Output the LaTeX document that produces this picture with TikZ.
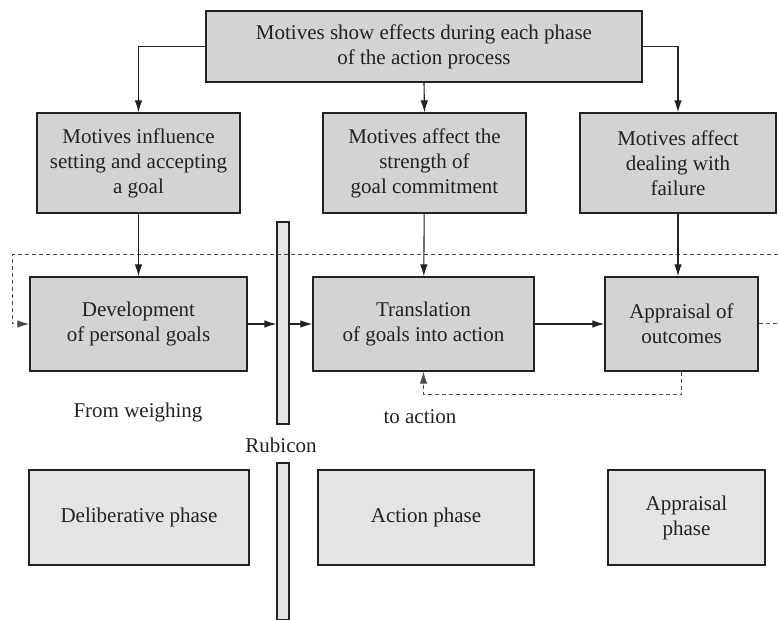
\documentclass[tikz,border=0pt]{standalone}
\usepackage{fontspec}
\setmainfont{Liberation Serif}
\usepackage{xcolor}
\usetikzlibrary{arrows.meta, positioning, calc}
\definecolor{boxgray}{HTML}{D3D3D5}
\definecolor{phasegray}{HTML}{E4E4E6}
\definecolor{inkgray}{HTML}{222222}

\begin{document}
\begin{tikzpicture}[
    x=0.5pt, y=-0.5pt,
    every node/.style={font=\fontsize{10.5}{12.5}\selectfont, text=inkgray},
    box/.style={draw=inkgray, line width=0.65pt, fill=boxgray, minimum height=50pt, align=center, inner sep=0pt},
    phase/.style={draw=inkgray, line width=1.4pt, fill=phasegray, minimum height=47.5pt, align=center, inner sep=0pt},
    bar/.style={draw=inkgray, line width=0.55pt, fill=phasegray, minimum width=6pt, inner sep=0pt},
    arrow/.style={-{Latex[length=6pt, width=3.8pt]}, line width=0.55pt, draw=inkgray},
    dashline/.style={dashed, dash pattern=on 2pt off 1.5pt, line width=0.5pt, draw=black!70},
    dasharrow/.style={dashline, -{Latex[length=6pt, width=3.8pt]}}
]
    \useasboundingbox (0,0) rectangle (778,620);

    % Motive boxes
    \node[box, minimum width=218pt, minimum height=35.5pt] (effects) at (424,46.5) {Motives show effects during each phase\\of the action process};
    \node[box, minimum width=101.5pt] (setting) at (138.5,163) {Motives influence\\setting and accepting\\a goal};
    \node[box, minimum width=101.5pt] (commit) at (424.5,163) {Motives affect the\\strength of\\goal commitment};
    \node[box, minimum width=98pt] (failure) at (678,163) {Motives affect\\dealing with\\failure};

    % Action process
    \node[box, minimum width=108.5pt, minimum height=47pt] (develop) at (138.5,324) {Development\\of personal goals};
    \node[box, minimum width=110.5pt, minimum height=47pt] (translate) at (423.5,324) {Translation\\of goals into action};
    \node[box, minimum width=76.5pt, minimum height=47pt] (appraise) at (681.5,324) {Appraisal of\\outcomes};

    % Rubicon
    \node[bar, minimum height=101pt] (rub1) at (283,323) {};
    \node[bar, minimum height=78.5pt] (rub2) at (283,541.5) {};
    \node (rubicon) at (281,445) {Rubicon};
    \node (weigh) at (138,412) {From weighing};
    \node (toact) at (420,417) {to action};

    % Phases
    \node[phase, minimum width=110pt] (delib) at (139,517.5) {Deliberative phase};
    \node[phase, minimum width=108pt] (actph) at (426,517.5) {Action phase};
    \node[phase, minimum width=78.5pt] (apprph) at (686.5,517.5) {Appraisal\\phase};

    % Feedback loops
    \coordinate (loopR) at (778,255);
    \coordinate (loopL) at (12,255);
    \coordinate (outR) at (778,324);
    \draw[dashline] (appraise.east) -- (outR);
    \draw[dasharrow] (loopR) -- (loopL) |- (develop.west);
    \draw[dasharrow] (appraise.south) -- ++(0,23) -| (translate.south);

    % Arrows
    \draw[arrow] (effects.west) -| (setting.north);
    \draw[arrow] (effects.south) -- (commit.north);
    \draw[arrow] (effects.east) -| (failure.north);
    \draw[arrow] (setting) -- (develop);
    \draw[arrow] (commit) -- (translate);
    \draw[arrow] (failure.south) -- (failure.south |- appraise.north);
    \draw[arrow] (develop) -- (rub1.west |- develop);
    \draw[arrow] (rub1.east |- translate) -- (translate);
    \draw[arrow] (translate) -- (appraise);
\end{tikzpicture}
\end{document}
